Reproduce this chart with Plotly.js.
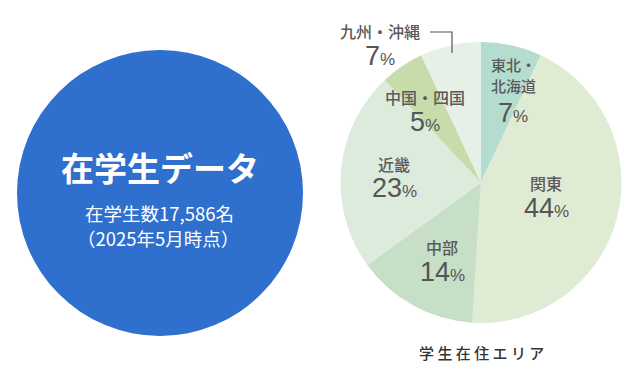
<!DOCTYPE html>
<html><head><meta charset="utf-8">
<script src="https://cdn.plot.ly/plotly-3.0.1.min.js"></script>
<style>html,body{margin:0;padding:0;background:#fff}#chart{width:640px;height:376px}</style>
</head><body><div id="chart"></div>
<script>
const regions = ["東北・北海道", "関東", "中部", "近畿", "中国・四国", "九州・沖縄"];
const labelLines = [["東北・", "北海道"], ["関東"], ["中部"], ["近畿"], ["中国・四国"], ["九州・沖縄"]];
const shares = [7, 44, 14, 23, 5, 7];
const sliceColors = ["#b4dccf", "#e0ebd3", "#c6dfc6", "#dcebdc", "#c6dcaa", "#e6f0e6"];
const totalTitle = "在学生データ";
const totalLine = "在学生数17,586名";
const dateLine = "（2025年5月時点）";
const areaTitle = "学生在住エリア";

const F = "Noto Sans CJK JP, Noto Sans, sans-serif";
const labelPos = [[513, 64, 113], [546, 183, 208], [442, 247, 272], [394, 164, 188], [425, 97, 122], [380, 31, 56]];
const lineGap = 22;

const traces = [
  {type: "pie", values: [1], labels: [totalTitle], marker: {colors: ["#2f6fcd"], line: {width: 0}},
   domain: {x: [17/640, 303/640], y: [1 - 336/376, 1 - 50/376]}, textinfo: "none", hoverinfo: "none", sort: false, showlegend: false},
  {type: "pie", values: shares, labels: regions, marker: {colors: sliceColors, line: {width: 0}},
   domain: {x: [340.5/640, 621.5/640], y: [1 - 323/376, 1 - 42/376]}, direction: "clockwise", rotation: 0,
   sort: false, textinfo: "none", hoverinfo: "label+percent", showlegend: false}
];

const ann = [];
const px = (x, y) => ({x: x / 640, y: 1 - y / 376, xref: "paper", yref: "paper", xanchor: "center", yanchor: "middle", showarrow: false, borderpad: 0});
ann.push(Object.assign(px(160, 167), {text: totalTitle, font: {family: F, size: 33, color: "#fff", weight: 700}}));
ann.push(Object.assign(px(159, 213), {text: totalLine, font: {family: F, size: 18.5, color: "#fff"}}));
ann.push(Object.assign(px(158, 238), {text: dateLine, font: {family: F, size: 18.5, color: "#fff"}}));
ann.push(Object.assign(px(481, 352), {text: areaTitle.split("").join(" "), font: {family: F, size: 15, color: "#333", weight: 500}}));
for (let i = 0; i < regions.length; i++) {
  const [x, yl, yp] = labelPos[i];
  const multi = labelLines[i].length > 1;
  labelLines[i].forEach((ln, k) => {
    ann.push(Object.assign(px(x, yl + k * lineGap), {text: ln,
      font: {family: F, size: multi ? 15 : 16, color: "#5a5a5a", weight: 500}}));
  });
  ann.push(Object.assign(px(x, yp), {text: shares[i] + "<span style='font-size:17px'>%</span>",
    font: {family: "Liberation Sans, Arial, sans-serif", size: 27, color: "#555"}}));
}
const shapes = [{type: "path", xref: "paper", yref: "paper",
  path: `M ${430/640} ${1-32/376} L ${452/640} ${1-32/376} L ${452/640} ${1-53/376}`,
  line: {color: "#555", width: 1.2}}];

Plotly.newPlot("chart", traces, {
  width: 640, height: 376, margin: {l: 0, r: 0, t: 0, b: 0},
  paper_bgcolor: "#fff", plot_bgcolor: "#fff", annotations: ann, shapes: shapes, showlegend: false
}, {staticPlot: true});
</script></body></html>
